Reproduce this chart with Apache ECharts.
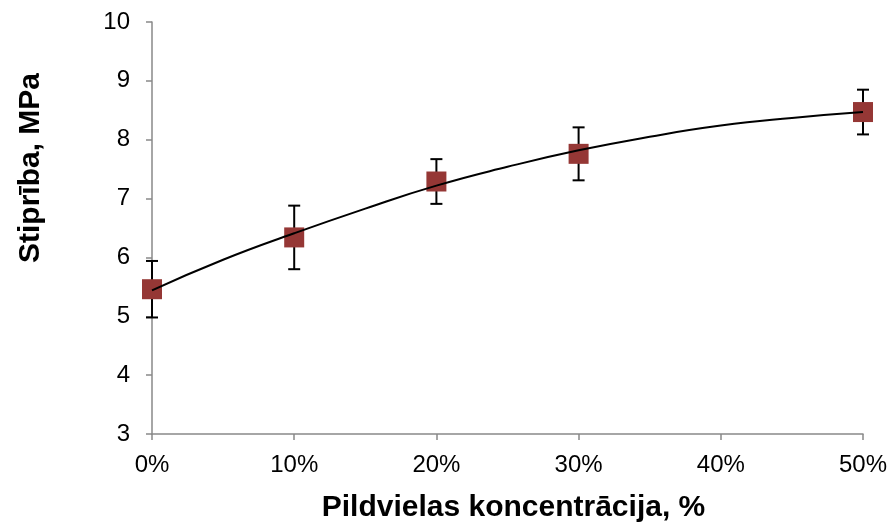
<!DOCTYPE html>
<html>
<head>
<meta charset="utf-8">
<script src="https://cdn.jsdelivr.net/npm/echarts@6/dist/echarts.min.js"></script>
<style>
html, body { margin: 0; padding: 0; background: #fff; }
#chart { width: 895px; height: 528px; }
</style>
</head>
<body>
<div id="chart"></div>
<script>
// koncentrācija, %
var concentrations = [0, 10, 20, 30, 50]
// stiprība, MPa
var strength = [5.46, 6.34, 7.29, 7.76, 8.47]
// kļūdas (±)
var errors = [0.48, 0.54, 0.38, 0.45, 0.38]
// tendences līnija (nolasīta no attēla)
var trendX = [0, 5, 10, 15, 20, 25, 30, 35, 40, 45, 50]
var trendY = [5.44, 5.96, 6.41, 6.83, 7.22, 7.54, 7.82, 8.05, 8.24, 8.37, 8.47]

var font = '"Liberation Sans", Arial, sans-serif'
var axisColor = '#898989'

var points = concentrations.map(function (c, i) { return [c, strength[i]] })
var bars = concentrations.map(function (c, i) { return [c, strength[i] - errors[i], strength[i] + errors[i]] })
var trend = trendX.map(function (x, i) { return [x, trendY[i]] })

var myChart = echarts.init(document.getElementById('chart'))
var option = {
  animation: false,
  grid: { left: 152, right: 32, top: 22, bottom: 91 },
  xAxis: {
    type: 'value',
    min: 0,
    max: 50,
    interval: 10,
    axisLine: { lineStyle: { color: axisColor, width: 1.5 } },
    axisTick: { show: true, inside: false, length: 6, lineStyle: { color: axisColor, width: 1.5 } },
    splitLine: { show: false },
    axisLabel: { formatter: '{value}%', color: '#000', fontSize: 24, fontFamily: font, margin: 19 },
    name: 'Pildvielas koncentrācija, %',
    nameLocation: 'middle',
    nameGap: 59,
    nameTextStyle: { color: '#000', fontSize: 30, fontWeight: 'bold', fontFamily: font, padding: [0, 0, 0, 12] }
  },
  yAxis: {
    type: 'value',
    min: 3,
    max: 10,
    interval: 1,
    axisLine: { show: true, lineStyle: { color: axisColor, width: 1.5 } },
    axisTick: { show: true, inside: false, length: 6, lineStyle: { color: axisColor, width: 1.5 } },
    splitLine: { show: false },
    axisLabel: { color: '#000', fontSize: 24, fontFamily: font, margin: 22 }
  },
  graphic: [{
    type: 'text',
    x: 31,
    y: 168,
    rotation: Math.PI / 2,
    style: {
      text: 'Stiprība, MPa',
      fill: '#000',
      font: 'bold 30px ' + font,
      textAlign: 'center',
      textVerticalAlign: 'middle'
    }
  }],
  series: [
    {
      type: 'custom',
      z: 1,
      data: bars,
      renderItem: function (params, api) {
        var x = api.value(0)
        var lo = api.coord([x, api.value(1)])
        var hi = api.coord([x, api.value(2)])
        var w = 6
        var style = { stroke: '#000', lineWidth: 2 }
        return {
          type: 'group',
          children: [
            { type: 'line', shape: { x1: lo[0], y1: lo[1], x2: hi[0], y2: hi[1] }, style: style },
            { type: 'line', shape: { x1: hi[0] - w, y1: hi[1], x2: hi[0] + w, y2: hi[1] }, style: style },
            { type: 'line', shape: { x1: lo[0] - w, y1: lo[1], x2: lo[0] + w, y2: lo[1] }, style: style }
          ]
        }
      }
    },
    {
      type: 'scatter',
      z: 2,
      symbol: 'rect',
      symbolSize: 20,
      itemStyle: { color: '#953735', opacity: 1 },
      data: points
    },
    {
      type: 'line',
      z: 3,
      smooth: true,
      showSymbol: false,
      lineStyle: { color: '#000', width: 2 },
      data: trend
    }
  ]
}
myChart.setOption(option)
</script>
</body>
</html>
